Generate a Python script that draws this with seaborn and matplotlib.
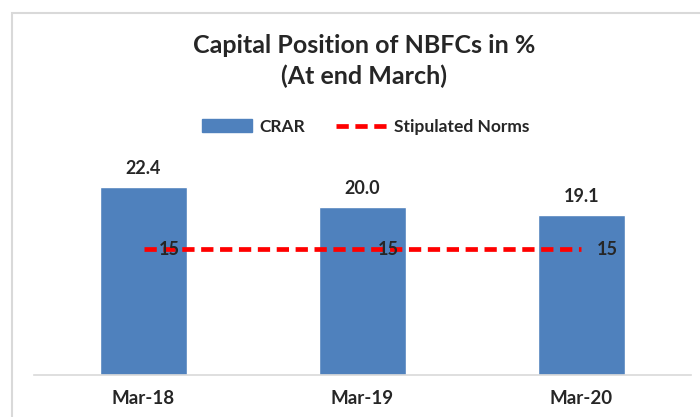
import pandas as pd
import matplotlib
matplotlib.use('Agg')
import matplotlib.pyplot as plt
from matplotlib.patches import Rectangle
from matplotlib.lines import Line2D
import seaborn as sns

# Chart values
categories = ['Mar-18', 'Mar-19', 'Mar-20']
crar = [22.4, 20.0, 19.1]
norms = [15, 15, 15]

df = pd.DataFrame({'period': categories, 'CRAR': crar, 'norm': norms})

sns.set_style('white')
plt.rcParams['font.family'] = ['Lato', 'DejaVu Sans']

fig = plt.figure(figsize=(7, 4.17), dpi=100)
ax = fig.add_axes([0.0486, 0.1007, 0.9384, 0.5033])

dash = (0, (2.6, 1.4))
sns.barplot(data=df, x='period', y='CRAR', color='#4f81bd', width=0.4,
            saturation=1, ax=ax)
ax.plot(range(len(categories)), df['norm'], color='#ff0000', lw=3.4, ls=dash)

# data labels
for i, v in enumerate(crar):
    ax.text(i, v + 1.2, f'{v:.1f}', ha='center', va='bottom',
            fontsize=13, fontweight='bold')
for i, v in enumerate(norms):
    ax.text(i + 0.07, v, f'{v}', ha='left', va='center',
            fontsize=13, fontweight='bold')

ax.set_ylim(0, 25)
ax.set_xlim(-0.5, 2.5)
ax.set_yticks([])
ax.set_xlabel('')
ax.set_ylabel('')
for s in ['top', 'right', 'left']:
    ax.spines[s].set_visible(False)
ax.spines['bottom'].set_color('#d9d9d9')
ax.spines['bottom'].set_linewidth(1.2)
ax.tick_params(axis='x', length=0, pad=11)
for lbl in ax.get_xticklabels():
    lbl.set_fontsize(13.5)
    lbl.set_fontweight('bold')

# title
fig.text(0.52, 0.892, 'Capital Position of NBFCs in %', ha='center',
         va='center', fontsize=18, fontweight='bold')
fig.text(0.52, 0.818, '(At end March)', ha='center', va='center',
         fontsize=18, fontweight='bold')

# legend
handles = [Rectangle((0, 0), 1, 1, color='#4f81bd'),
           Line2D([0], [0], color='#ff0000', lw=3.4, ls=dash)]
fig.legend(handles, ['CRAR', 'Stipulated Norms'], loc='center',
           bbox_to_anchor=(0.522, 0.696), ncol=2, frameon=False,
           prop={'size': 12.5, 'weight': 'bold'}, handlelength=2.9,
           handleheight=0.75, columnspacing=1.8, handletextpad=0.4)

# outer chart frame
fig.patches.append(Rectangle((12 / 700, -0.1), 1.0, 1.1 - 13 / 417,
                             transform=fig.transFigure, fill=False,
                             edgecolor='#d9d9d9', lw=1.5))

fig.savefig('out.png', dpi=100)
